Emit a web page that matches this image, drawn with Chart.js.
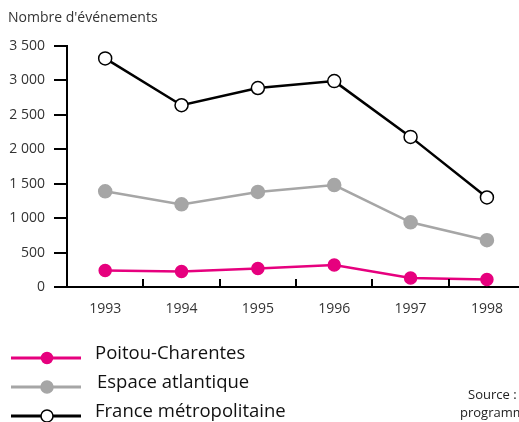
<!DOCTYPE html>
<html lang="fr">
<head>
<meta charset="utf-8">
<script src="https://cdn.jsdelivr.net/npm/chart.js@4/dist/chart.umd.min.js"></script>
<style>
  body { margin: 0; background: #fff; font-family: "Open Sans", sans-serif; }
  #wrap { position: relative; width: 519px; height: 422px; overflow: hidden; }
  #chart { position: absolute; left: 0; top: 0; }
  #titre { position: absolute; left: 8px; top: 7px; font-size: 14px; color: #333; white-space: nowrap; }
  .leg { position: absolute; left: 11px; height: 20px; white-space: nowrap; }
  .leg svg { position: absolute; left: 0; top: 0; }
  .leg span { position: absolute; left: 84px; top: -9px; font-size: 18.5px; color: #111; }
  .src { position: absolute; font-size: 13px; color: #222; white-space: nowrap; }
</style>
</head>
<body>
<div id="wrap">
  <canvas id="chart" width="519" height="422"></canvas>
  <div id="titre">Nombre d'événements</div>
  <div id="legende"></div>
  <div class="src" style="left:468px;top:385px;">Source :</div>
  <div class="src" style="left:460px;top:403px;">programme</div>
</div>
<script>
// données
const annees = [1993, 1994, 1995, 1996, 1997, 1998];
const poitouCharentes = [240, 225, 270, 320, 130, 110];
const espaceAtlantique = [1390, 1200, 1380, 1480, 940, 680];
const franceMetro = [3320, 2640, 2890, 2990, 2180, 1300];
const yTicks = [0, 500, 1000, 1500, 2000, 2500, 3000, 3500];

const series = [
    { nom: 'Poitou-Charentes', data: poitouCharentes, couleur: '#e6007e', fond: '#e6007e', rayon: 6 },
    { nom: 'Espace atlantique', data: espaceAtlantique, couleur: '#a6a6a6', fond: '#a6a6a6', rayon: 6.5 },
    { nom: 'France métropolitaine', data: franceMetro, couleur: '#000000', fond: '#ffffff', rayon: 6.5 }
];

// séparateur de milliers avec une espace
function formatNombre(v) {
    return String(v).replace(/\B(?=(\d{3})+(?!\d))/g, ' ');
}

// légende en HTML
const legende = document.getElementById('legende');
const legY = [348, 377, 406];
series.forEach((s, i) => {
    const div = document.createElement('div');
    div.className = 'leg';
    div.style.top = legY[i] + 'px';
    div.innerHTML = '<svg width="72" height="20">' +
        '<line x1="0" y1="10" x2="70" y2="10" stroke="' + s.couleur + '" stroke-width="3"/>' +
        '<circle cx="36" cy="10" r="' + (s.rayon - 0.5) + '" fill="' + s.fond + '" stroke="' + s.couleur + '" stroke-width="1.5"/>' +
        '</svg><span>' + s.nom + '</span>';
    if (i === 1) div.querySelector('span').style.left = '86px';
    legende.appendChild(div);
});

// petits traits verticaux vers le haut entre les années
const traitsAxeX = {
    id: 'traitsAxeX',
    afterDraw(chart) {
        const x = chart.scales.x;
        const bas = chart.chartArea.bottom;
        const c = chart.ctx;
        c.save();
        c.strokeStyle = '#000';
        c.lineWidth = 2;
        for (let i = 1; i < annees.length; i++) {
            const px = Math.round(x.getPixelForValue((annees[i - 1] + annees[i]) / 2));
            c.beginPath();
            c.moveTo(px, bas);
            c.lineTo(px, bas - 8);
            c.stroke();
        }
        c.restore();
    }
};

window.addEventListener('DOMContentLoaded', function() {
    const ctx = document.getElementById('chart').getContext('2d');
    new Chart(ctx, {
        type: 'line',
        data: {
            datasets: series.map(s => ({
                label: s.nom,
                data: annees.map((a, i) => ({ x: a, y: s.data[i] })),
                borderColor: s.couleur,
                borderWidth: 2.5,
                pointRadius: s.rayon,
                pointBackgroundColor: s.fond,
                pointBorderColor: s.couleur,
                pointBorderWidth: 1.5,
                tension: 0,
                fill: false,
                clip: false
            }))
        },
        options: {
            responsive: false,
            animation: false,
            layout: { autoPadding: false, padding: { left: 0, right: 0, top: 46, bottom: 105 } },
            plugins: { legend: { display: false }, tooltip: { enabled: false } },
            scales: {
                x: {
                    type: 'linear',
                    min: 1992.5,
                    max: 1998.42,
                    afterBuildTicks: scale => { scale.ticks = annees.map(v => ({ value: v })); },
                    grid: { display: false },
                    border: { color: '#000', width: 2 },
                    ticks: {
                        color: '#333',
                        font: { family: 'Open Sans', size: 14 },
                        padding: 6,
                        maxRotation: 0,
                        autoSkip: false,
                        callback: v => String(v)
                    },
                    afterFit: scale => {
                        scale.height = 30;
                        scale.paddingLeft = 0;
                        scale.paddingRight = 0;
                    }
                },
                y: {
                    min: 0,
                    max: 3500,
                    afterBuildTicks: scale => { scale.ticks = yTicks.map(v => ({ value: v })); },
                    grid: { drawOnChartArea: false, tickLength: 13, color: '#000', lineWidth: 2 },
                    border: { color: '#000', width: 2 },
                    ticks: {
                        color: '#333',
                        font: { family: 'Open Sans', size: 14 },
                        padding: 9,
                        callback: v => formatNombre(v)
                    },
                    afterFit: scale => { scale.width = 67; }
                }
            }
        },
        plugins: [traitsAxeX]
    });
});
</script>
</body>
</html>
